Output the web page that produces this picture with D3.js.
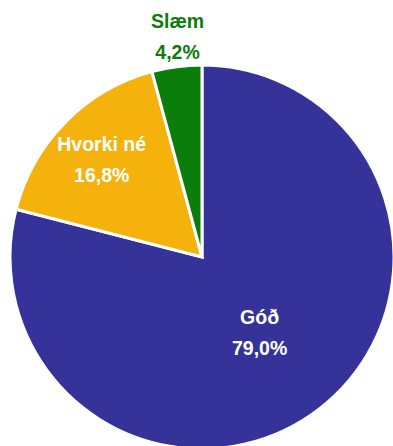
<!DOCTYPE html>
<html>
<head>
<meta charset="utf-8">
<script src="https://cdn.jsdelivr.net/npm/d3@7"></script>
<style>
  html, body { margin: 0; padding: 0; background: #fff; }
  svg { display: block; }
</style>
</head>
<body>
<svg class="graphique"></svg>
<script>
// données
const categories = ["Góð", "Hvorki né", "Slæm"]
const values = [79.0, 16.8, 4.2]
const colors = ["#35339a", "#f5b20c", "#0a7d0a"]
const labelColors = ["#ffffff", "#ffffff", "#0a7d0a"]

const width = 393, height = 446
const cx = 202, cy = 257, radius = 192
// placement des étiquettes (distance au centre, décalage horizontal)
const labelRadius = [94, 141, 224]
const labelDx = [0, 0, 5]

const svg = d3.select(".graphique")
    .attr("width", width)
    .attr("height", height)

const g = svg.append("g")
    .attr("transform", "translate(" + cx + "," + cy + ")")

const data = categories.map((c, i) => ({ name: c, value: values[i], i: i }))

const pie = d3.pie().value(d => d.value).sort(null)
const arcs = pie(data)

const arc = d3.arc().innerRadius(0).outerRadius(radius)

g.selectAll("path")
    .data(arcs)
    .join("path")
    .attr("d", arc)
    .attr("fill", d => colors[d.data.i])
    .attr("stroke", "#fff")
    .attr("stroke-width", 3)
    .attr("stroke-linejoin", "miter")

// étiquettes
const labels = g.selectAll("text.lbl")
    .data(arcs)
    .join("text")
    .attr("class", "lbl")
    .attr("transform", d => {
        const r = labelRadius[d.data.i]
        const p = d3.arc().innerRadius(r).outerRadius(r).centroid(d)
        return "translate(" + (p[0] + labelDx[d.data.i]) + "," + p[1] + ")"
    })
    .attr("text-anchor", "middle")
    .attr("fill", d => labelColors[d.data.i])
    .style("font-family", "'Liberation Sans', Arial, sans-serif")
    .style("font-weight", "bold")
    .style("font-size", "19.5px")

labels.append("tspan")
    .attr("x", 0)
    .attr("y", -7)
    .text(d => d.data.name)
labels.append("tspan")
    .attr("x", 0)
    .attr("y", 24)
    .text(d => d3.format(".1f")(d.data.value).replace(".", ",") + "%")
</script>
</body>
</html>
